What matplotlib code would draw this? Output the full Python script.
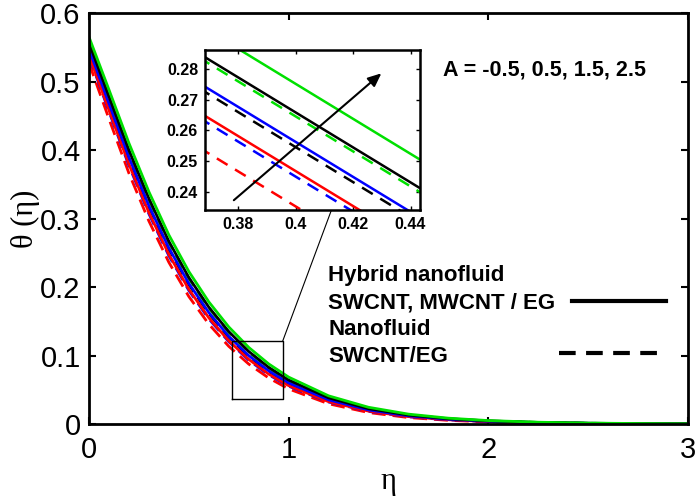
import matplotlib
import matplotlib.pyplot as plt

matplotlib.use("Agg")

plt.rcParams["font.family"] = ["Liberation Sans", "DejaVu Sans"]

# eta grid and theta(eta), A = -0.5, 0.5, 1.5, 2.5
eta = [0, 0.1, 0.2, 0.3, 0.4, 0.5, 0.6, 0.7, 0.8, 0.9, 1.0,
       1.2, 1.4, 1.6, 1.8, 2.0, 2.25, 2.5, 2.75, 3.0]

# hybrid nanofluid (solid)
hyb_red = [0.5384, 0.4582, 0.3793, 0.3088, 0.2476, 0.1966, 0.1551, 0.1214, 0.0944, 0.0729, 0.0560,
           0.0326, 0.0188, 0.0108, 0.0062, 0.0035, 0.0018, 0.0008, 0.0004, 0.0002]
hyb_blue = [0.5475, 0.4680, 0.3895, 0.3187, 0.2570, 0.2052, 0.1628, 0.1280, 0.0999, 0.0777, 0.0600,
            0.0353, 0.0205, 0.0119, 0.0069, 0.0040, 0.0020, 0.0010, 0.0005, 0.0002]
hyb_black = [0.5565, 0.4782, 0.3998, 0.3292, 0.2666, 0.2139, 0.1706, 0.1349, 0.1059, 0.0827, 0.0642,
             0.0382, 0.0224, 0.0131, 0.0077, 0.0045, 0.0023, 0.0011, 0.0006, 0.0003]
hyb_green = [0.5650, 0.4880, 0.4100, 0.3390, 0.2760, 0.2226, 0.1783, 0.1417, 0.1118, 0.0877, 0.0684,
             0.0411, 0.0244, 0.0144, 0.0085, 0.0050, 0.0026, 0.0013, 0.0007, 0.0003]

# nanofluid (dashed)
nf_red = [0.5271, 0.4455, 0.3661, 0.2963, 0.2360, 0.1861, 0.1458, 0.1134, 0.0875, 0.0672, 0.0512,
          0.0295, 0.0167, 0.0094, 0.0053, 0.0030, 0.0015, 0.0007, 0.0004, 0.0001]
nf_blue = [0.5368, 0.4563, 0.3772, 0.3068, 0.2456, 0.1950, 0.1535, 0.1202, 0.0932, 0.0719, 0.0552,
           0.0321, 0.0184, 0.0105, 0.0060, 0.0034, 0.0017, 0.0008, 0.0004, 0.0002]
nf_black = [0.5458, 0.4665, 0.3875, 0.3170, 0.2553, 0.2037, 0.1614, 0.1268, 0.0989, 0.0768, 0.0592,
            0.0349, 0.0202, 0.0117, 0.0067, 0.0039, 0.0020, 0.0010, 0.0005, 0.0002]
nf_green = [0.5552, 0.4768, 0.3984, 0.3275, 0.2652, 0.2126, 0.1694, 0.1339, 0.1051, 0.0819, 0.0635,
            0.0378, 0.0222, 0.0129, 0.0075, 0.0044, 0.0023, 0.0011, 0.0006, 0.0002]

# inset close-up
eta_in = [0.36, 0.40, 0.45]
in_hyb_red = [0.2696, 0.2468, 0.2183]
in_hyb_blue = [0.2791, 0.2563, 0.2278]
in_hyb_black = [0.2887, 0.2659, 0.2374]
in_hyb_green = [0.2980, 0.2752, 0.2467]
in_nf_red = [0.2581, 0.2353, 0.2068]
in_nf_blue = [0.2678, 0.2450, 0.2165]
in_nf_black = [0.2774, 0.2546, 0.2261]
in_nf_green = [0.2874, 0.2646, 0.2361]

COLORS = ["#ff0000", "#0000ff", "#000000", "#00e000"]
DASH = (0, (5, 2.5))

fig = plt.figure(figsize=(6.98, 5.01), dpi=100)
ax = fig.add_axes([0.1275, 0.1537, 0.8582, 0.8203])

for ys, c in zip([nf_red, nf_blue, nf_black, nf_green], COLORS):
    ax.plot(eta, ys, color=c, lw=2, linestyle=DASH)
for ys, c in zip([hyb_red, hyb_blue, hyb_black, hyb_green], COLORS):
    ax.plot(eta, ys, color=c, lw=2)

ax.set_xlim(0, 3)
ax.set_ylim(0, 0.6)
ax.set_xticks([0, 1, 2, 3])
ax.set_xticklabels(["0", "1", "2", "3"])
ax.set_yticks([0, 0.1, 0.2, 0.3, 0.4, 0.5, 0.6])
ax.set_yticklabels(["0", "0.1", "0.2", "0.3", "0.4", "0.5", "0.6"])
ax.tick_params(direction="in", length=5, width=1.5, labelsize=21, top=True, right=True)
ax.tick_params(axis="x", pad=9)
ax.tick_params(axis="y", pad=6)
for s in ax.spines.values():
    s.set_linewidth(2)
ax.set_xlabel("η", family=["Liberation Serif"], fontsize=22, labelpad=2)
ax.set_ylabel("θ (η)", family=["Liberation Serif"], fontsize=22, labelpad=0)

# zoom box and connector
ax.plot([0.715, 0.970, 0.970, 0.715, 0.715], [0.0365, 0.0365, 0.121, 0.121, 0.0365], color="black", lw=1)
ax.plot([0.970, 1.215], [0.121, 0.313], color="black", lw=0.8)

ax.text(0.591, 0.861, "A = -0.5, 0.5, 1.5, 2.5", transform=ax.transAxes,
        fontsize=15.5, fontweight="bold", va="center")

legend_lines = ["Hybrid nanofluid", "SWCNT, MWCNT / EG", "Nanofluid", "SWCNT/EG"]
for txt, yy in zip(legend_lines, [0.3625, 0.294, 0.229, 0.165]):
    ax.text(0.399, yy, txt, transform=ax.transAxes, fontsize=16, fontweight="bold", va="center")
ax.plot([0.806, 0.963], [0.300, 0.300], transform=ax.transAxes, color="black", lw=3)
ax.plot([0.785, 0.950], [0.1735, 0.1735], transform=ax.transAxes, color="black", lw=3,
        linestyle=(0, (4, 2.5)))

# inset
axin = fig.add_axes([0.2937, 0.5808, 0.308, 0.3194])
for ys, c in zip([in_nf_red, in_nf_blue, in_nf_black, in_nf_green], COLORS):
    axin.plot(eta_in, ys, color=c, lw=1.8, linestyle=(0, (5, 3.5)))
for ys, c in zip([in_hyb_red, in_hyb_blue, in_hyb_black, in_hyb_green], COLORS):
    axin.plot(eta_in, ys, color=c, lw=1.8)
axin.set_xlim(0.3685, 0.4433)
axin.set_ylim(0.2341, 0.2862)
axin.set_xticks([0.38, 0.40, 0.42, 0.44])
axin.set_xticklabels(["0.38", "0.4", "0.42", "0.44"])
axin.set_yticks([0.24, 0.25, 0.26, 0.27, 0.28])
axin.set_yticklabels(["0.24", "0.25", "0.26", "0.27", "0.28"])
axin.tick_params(direction="in", length=3, width=1, labelsize=11.5, top=True, right=True, pad=5)
for lab in axin.get_xticklabels() + axin.get_yticklabels():
    lab.set_fontweight("bold")
for s in axin.spines.values():
    s.set_linewidth(1.8)
axin.annotate("", xy=(0.4306, 0.2792), xytext=(0.3778, 0.2367),
              arrowprops=dict(arrowstyle="-|>,head_length=0.8,head_width=0.35", color="black", lw=1.5))

fig.savefig("out.png", dpi=100)
